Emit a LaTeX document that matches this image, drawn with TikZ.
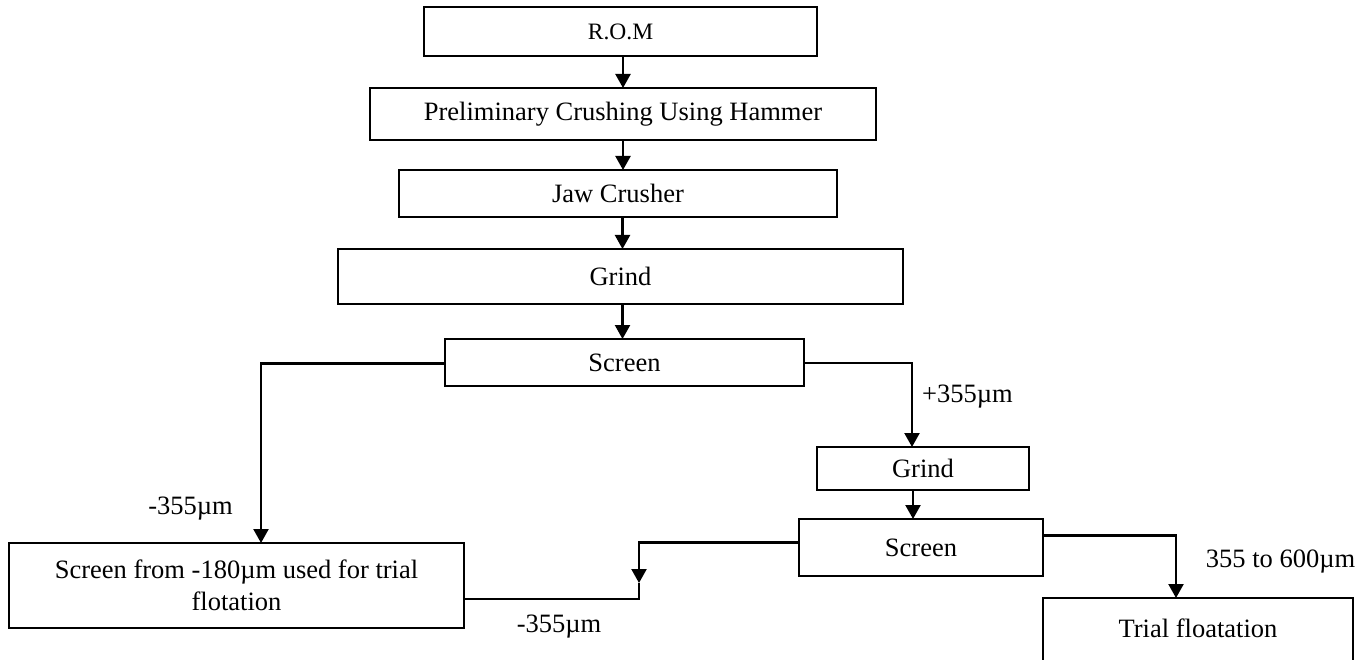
\documentclass[tikz,border=0pt]{standalone}
\usepackage{fontspec}
\setmainfont{Liberation Serif}
\usetikzlibrary{arrows.meta}
\tikzset{
  box/.style={draw, line width=1.8pt, inner sep=0pt, outer sep=0pt, align=center,
    font=\fontsize{26.5}{32}\selectfont},
  arr/.style={line width=2.3pt, -{Triangle[length=14pt,width=15pt]}},
  ln/.style={line width=2.3pt},
  lbl/.style={inner sep=0pt, font=\fontsize{26.5}{32}\selectfont}
}
\begin{document}
\begin{tikzpicture}[x=1pt,y=-1pt]
\useasboundingbox (0,0) rectangle (1372,660);
% boxes
\node[box, minimum width=393pt, minimum height=49pt, font=\fontsize{23.5}{28}\selectfont] (rom) at (620.5,31.5) {R.O.M};
\node[box, minimum width=506pt, minimum height=52pt] (prelim) at (623,114) {Preliminary Crushing Using Hammer};
\node[box, minimum width=438pt, minimum height=47pt] (jaw) at (618,193.5) {Jaw Crusher};
\node[box, minimum width=565pt, minimum height=55pt] (grind) at (620.5,276.5) {Grind};
\node[box, minimum width=359pt, minimum height=47pt] (screen) at (624.5,362.5) {Screen};
\node[box, minimum width=212pt, minimum height=43pt] (grind2) at (923,468.5) {Grind};
\node[box, minimum width=244pt, minimum height=57pt] (screen2) at (921,547.5) {Screen};
\node[box, minimum width=455pt, minimum height=85pt] (sfrom) at (236.5,585.5) {Screen from -180µm used for trial\\flotation};
\node[box, minimum width=310pt, minimum height=66pt] (trial) at (1198,631) {\raisebox{6pt}{Trial floatation}};
% connectors
\draw[arr] (rom.south -| prelim.north) -- (prelim.north);
\draw[arr] (prelim.south) -- (prelim.south |- jaw.north);
\draw[arr] ([xshift=-0.5pt]prelim.south |- jaw.south) -- ([xshift=-0.5pt]prelim.south |- grind.north);
\draw[arr] ([xshift=-0.5pt]prelim.south |- grind.south) -- ([xshift=-0.5pt]prelim.south |- screen.north);
\draw[arr] ([yshift=-1pt]screen.west) -| ([xshift=24.5pt]sfrom.north);
\draw[arr] ([yshift=-0.5pt]screen.east) -| ([xshift=-11pt]grind2.north);
\draw[arr] ([xshift=-10pt]grind2.south) -- ([xshift=-10pt]grind2.south |- screen2.north);
\coordinate (m) at (639,583);
\draw[arr] ([yshift=5pt]screen2.west) -| (m);
\draw[ln] ([yshift=-13.5pt]sfrom.east) -| (m);
\draw[arr] ([yshift=12pt]screen2.east) -| ([xshift=-22pt]trial.north);
% labels
\node[lbl] (l1) at (967.5,397) {+355µm};
\node[lbl] (l2) at (190.5,509) {-355µm};
\node[lbl] (l3) at (559,627) {-355µm};
\node[lbl] (l4) at (1280.5,562) {355 to 600µm};
\end{tikzpicture}
\end{document}
